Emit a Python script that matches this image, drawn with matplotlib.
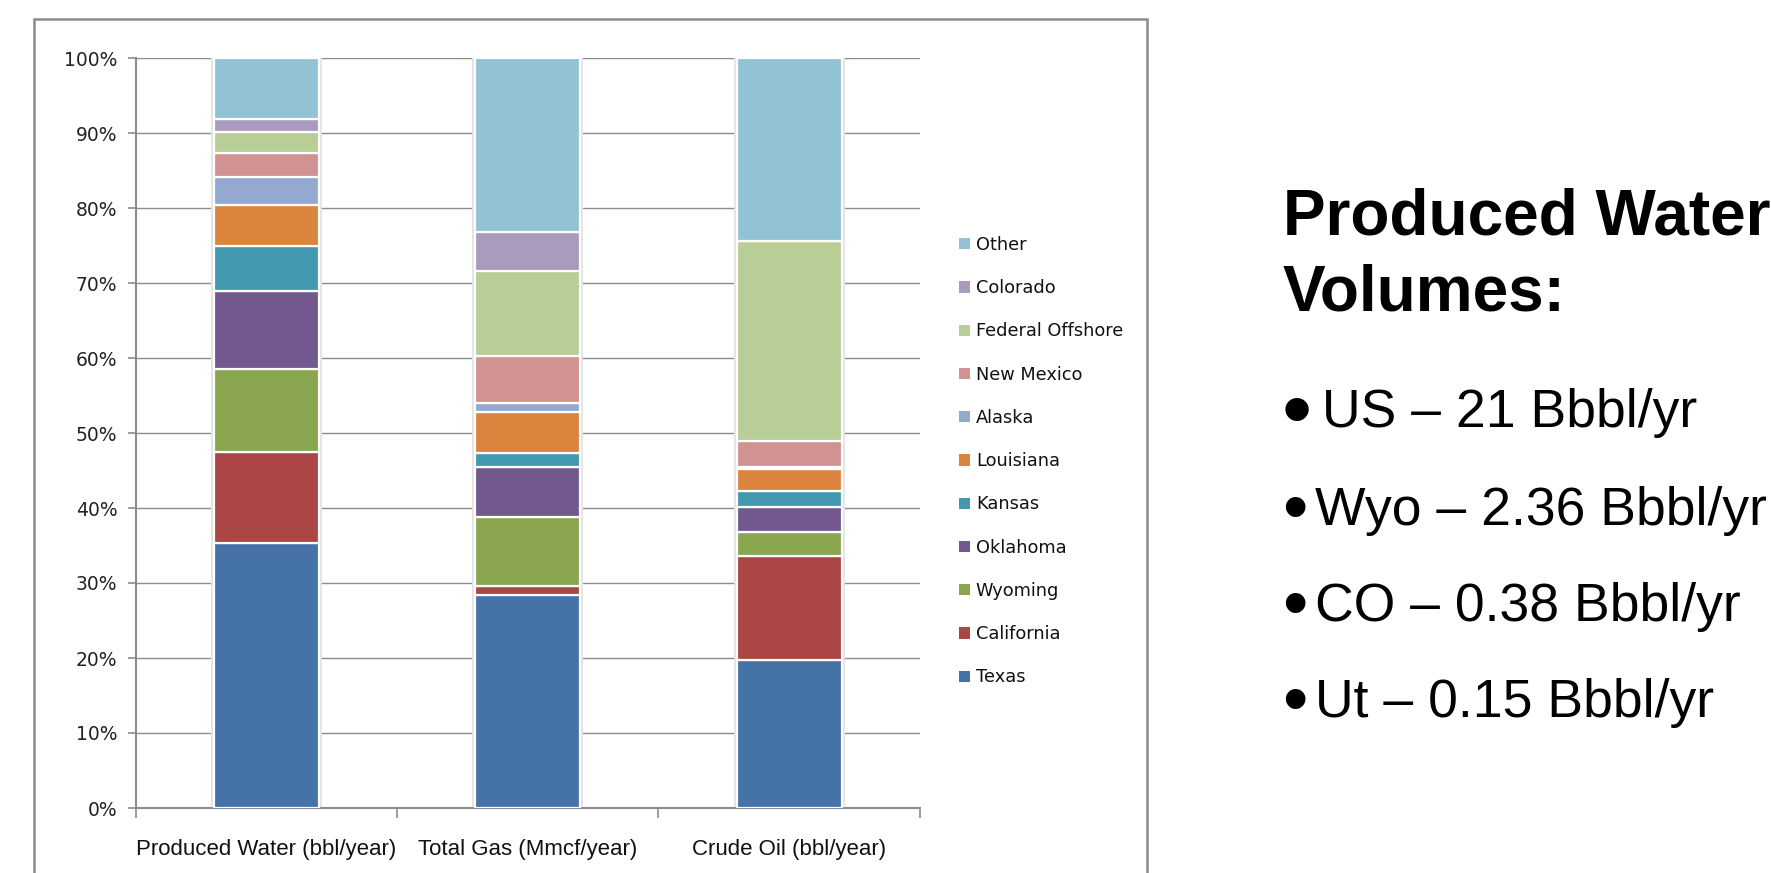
import matplotlib
matplotlib.use("Agg")
import matplotlib.pyplot as plt
from matplotlib import font_manager as fm
from matplotlib.patches import Rectangle, Patch
from matplotlib.ticker import FuncFormatter, FixedLocator
import numpy as np

# ---------------- data ----------------
categories = ["Produced Water (bbl/year)", "Total Gas (Mmcf/year)", "Crude Oil (bbl/year)"]
series = ["Texas", "California", "Wyoming", "Oklahoma", "Kansas", "Louisiana",
          "Alaska", "New Mexico", "Federal Offshore", "Colorado", "Other"]
produced_water = [35.4, 12.1, 11.0, 10.5, 5.9, 5.5, 3.8, 3.1, 2.9, 1.7, 8.1]
total_gas      = [28.4, 1.2, 9.2, 6.7, 1.8, 5.5, 1.2, 6.3, 11.3, 5.2, 23.2]
crude_oil      = [19.7, 13.9, 3.2, 3.4, 2.1, 2.9, 0.3, 3.4, 26.7, 0.0, 24.4]
colors = ["#4572A7", "#AA4643", "#89A54E", "#71588F", "#4198AF", "#DB843D",
          "#93A9CF", "#D19392", "#B9CD96", "#A99BBD", "#92C3D4"]
yticks = [0, 10, 20, 30, 40, 50, 60, 70, 80, 90, 100]

title_lines = ["Produced Water", "Volumes:"]
bullets = ["US \u2013 21 Bbbl/yr", "Wyo \u2013 2.36 Bbbl/yr",
           "CO \u2013 0.38 Bbbl/yr", "Ut \u2013 0.15 Bbbl/yr"]

# ---------------- fonts ----------------
names = {f.name for f in fm.fontManager.ttflist}
narrow = "Liberation Sans Narrow" if "Liberation Sans Narrow" in names else "Liberation Sans"
xlab_size = 17.5 if narrow == "Liberation Sans Narrow" else 16

W, H = 1771, 873
fig = plt.figure(figsize=(W / 100, H / 100), dpi=100)
fig.patch.set_facecolor("white")

ax = fig.add_axes([135.5 / W, 1 - 808 / H, (920 - 135.5) / W, (808 - 58) / H])

data = np.array([produced_water, total_gas, crude_oil])  # 3 x 11
x = np.arange(len(categories)) + 0.5

# faint shadow behind each column
ax.bar(x, data.sum(axis=1), width=0.425, color="#e4e4e4", edgecolor="none", zorder=2)

bottom = np.zeros(len(categories))
for i, name in enumerate(series):
    vals = data[:, i]
    ax.bar(x, vals, width=0.4, bottom=bottom, color=colors[i],
           edgecolor="white", linewidth=1.6, zorder=3, label=name)
    bottom += vals

ax.set_xlim(0, 3)
ax.set_ylim(0, 100)

# grid
ax.yaxis.set_major_locator(FixedLocator(yticks))
ax.yaxis.set_major_formatter(FuncFormatter(lambda v, p: f"{int(round(v))}%"))
ax.grid(axis="y", color="#8c8c8c", linewidth=1.0, zorder=0)
ax.set_axisbelow(True)

# spines
for s in ["top", "right"]:
    ax.spines[s].set_visible(False)
for s in ["left", "bottom"]:
    ax.spines[s].set_color("#8c8c8c")
    ax.spines[s].set_linewidth(1.5)

ax.tick_params(axis="y", direction="out", length=6, width=1.2, color="#8c8c8c",
               pad=7, labelsize=13.5, labelcolor="#222222")
for lab in ax.get_yticklabels():
    lab.set_fontfamily("DejaVu Sans")

ax.set_xticks(x)
ax.set_xticklabels(categories, fontsize=xlab_size, family=narrow, color="#111111")
ax.set_xticks([0, 1, 2, 3], minor=True)
ax.tick_params(axis="x", which="major", length=0, pad=22)
ax.tick_params(axis="x", which="minor", direction="out", length=7, width=1.2, color="#8c8c8c")

# legend (reversed order, Other on top)
handles = [Patch(facecolor=colors[i], edgecolor="none") for i in range(len(series))][::-1]
labels = series[::-1]
leg = fig.legend(handles, labels, loc="upper left",
                 bbox_to_anchor=(959 / W, 1 - 236 / H),
                 frameon=False, prop={"family": "DejaVu Sans", "size": 12.8},
                 handlelength=0.6, handleheight=0.6, handletextpad=0.35,
                 labelspacing=1.42, borderpad=0, borderaxespad=0)
for t in leg.get_texts():
    t.set_color("#111111")

# chart-area frame
frame = Rectangle((34 / W, -0.05), (1147 - 34) / W, 1 - 19 / H + 0.05,
                  transform=fig.transFigure, fill=False, edgecolor="#8c8c8c",
                  linewidth=1.8, clip_on=False)
fig.patches.append(frame)

# right-side text
tx = 1283 / W
fig.text(tx, 1 - 235 / H, title_lines[0], family="Liberation Sans", weight="bold",
         fontsize=46, va="baseline", ha="left")
fig.text(tx, 1 - 310 / H, title_lines[1], family="Liberation Sans", weight="bold",
         fontsize=46, va="baseline", ha="left")

baselines = [427, 525, 621, 717]
text_x = [1321.7, 1315, 1315, 1315]
bullet_sizes = [62, 52, 52, 52]
for b, bx, txt, bs in zip(baselines, text_x, bullets, bullet_sizes):
    center = b - 20  # middle of the capitals
    em = bs * 100 / 72
    fig.text(1282 / W, 1 - (center + 0.36 * em) / H, "\u2022", family="Liberation Sans",
             fontsize=bs, va="baseline", ha="left")
    fig.text(bx / W, 1 - b / H, txt, family="Liberation Sans",
             fontsize=38.5, va="baseline", ha="left")

fig.savefig("out.png", dpi=100)
